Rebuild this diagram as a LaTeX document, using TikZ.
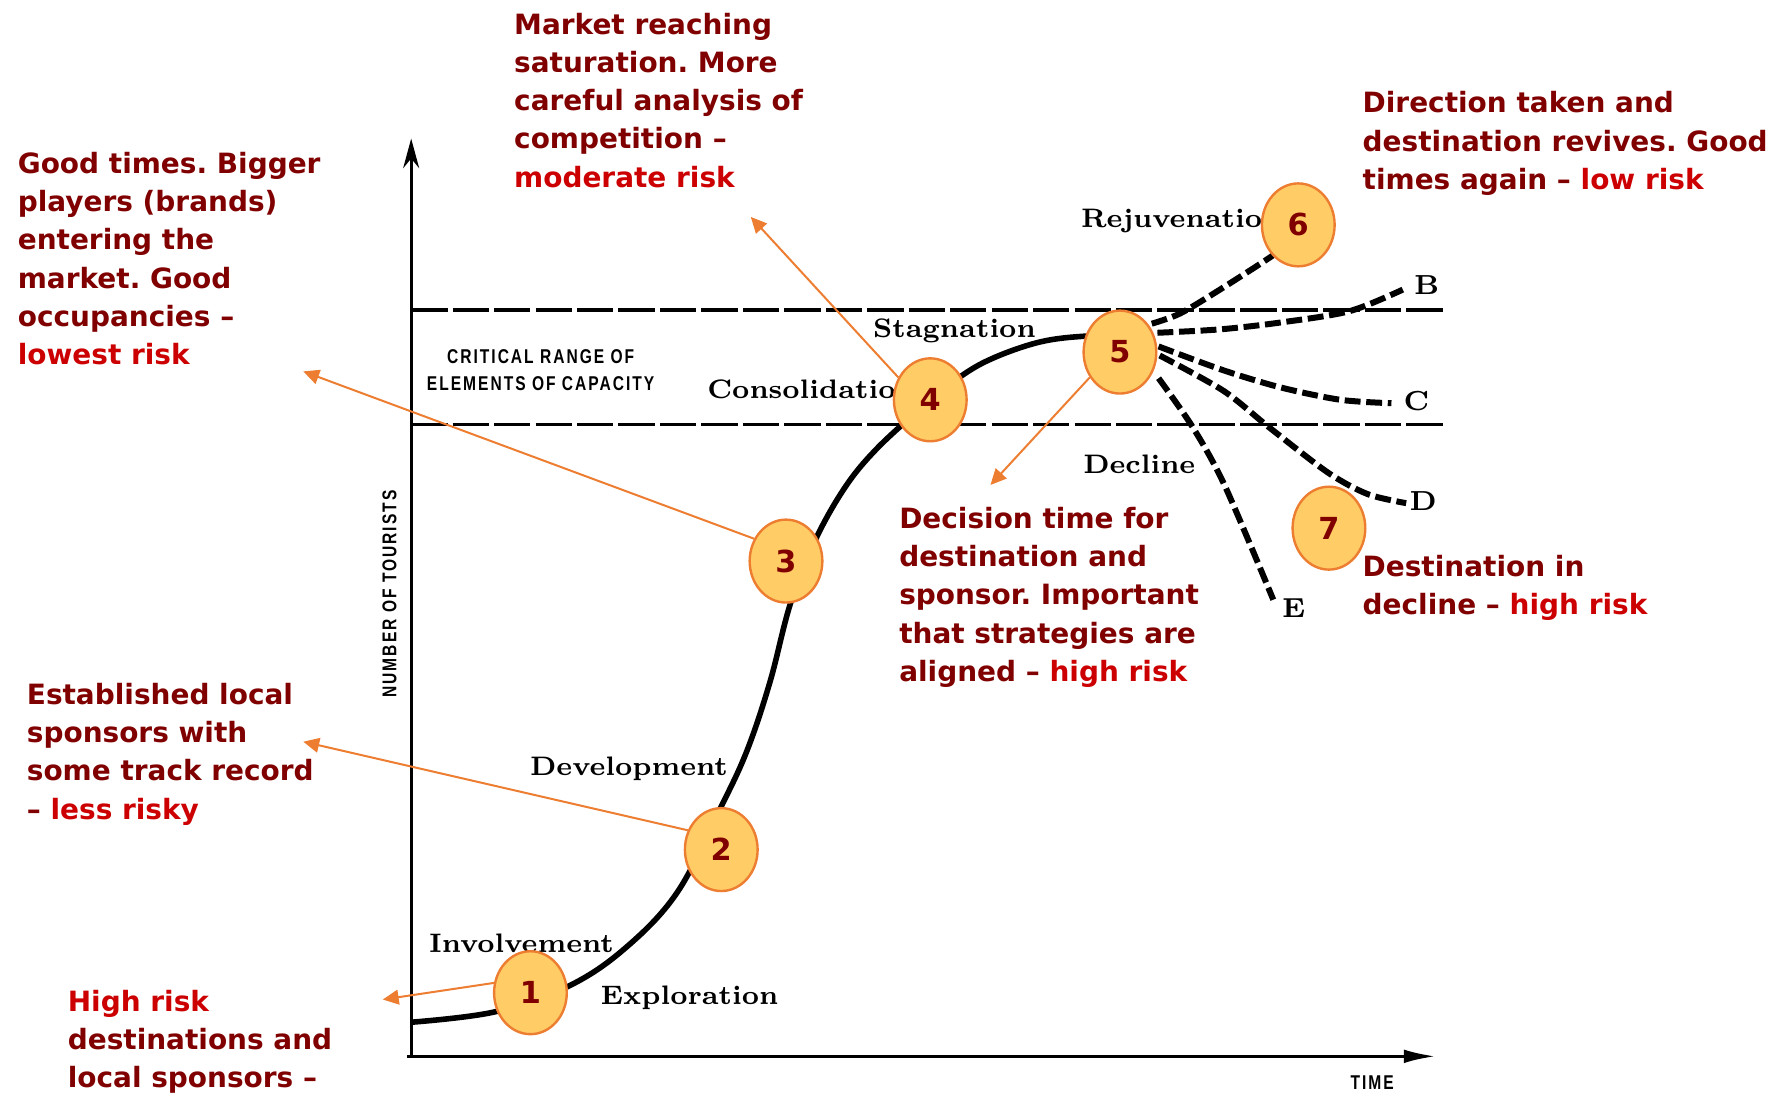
\documentclass[tikz,border=0pt]{standalone}
\usepackage{fontspec}
\usepackage{tikz}
\usetikzlibrary{shapes.geometric,arrows.meta}

\newfontfamily\notefont{DejaVu Sans}
\newfontfamily\capfont[FakeStretch=0.78,LetterSpace=10]{Liberation Sans}
\frenchspacing

\definecolor{riskdark}{RGB}{128,0,0}
\definecolor{riskred}{RGB}{204,0,0}
\definecolor{discfill}{RGB}{255,204,102}
\definecolor{discline}{RGB}{237,125,49}

\begin{document}
\begin{tikzpicture}[
    stage/.style={font=\bfseries\fontsize{6.7}{8}\selectfont, inner sep=0pt, anchor=base west},
    letter/.style={font=\bfseries\fontsize{6.9}{8}\selectfont, inner sep=0pt},
    note/.style={font=\notefont\bfseries\fontsize{7}{9.56}\selectfont, text=riskdark, align=left, inner sep=0pt, anchor=north west},
    axislabel/.style={font=\capfont\bfseries\fontsize{5}{6.7}\selectfont, inner sep=0pt},
    disc/.style={ellipse, draw=discline, fill=discfill, line width=0.6pt, minimum width=6.4mm, minimum height=7.3mm, inner sep=0pt, text=riskdark, font=\notefont\bfseries\fontsize{7.6}{8}\selectfont},
    riskarrow/.style={draw=discline, line width=0.5pt, -{Triangle[length=1.4mm,width=1.3mm]}},
    capline/.style={line width=0.8pt, dash pattern=on 3.2mm off 0.45mm},
    branch/.style={line width=1.5pt, dash pattern=on 1.4mm off 0.5mm}
]
    \useasboundingbox (0,0) rectangle (15.68,9.65);

    % critical range of capacity
    \draw[capline] (3.62,6.92) -- (12.70,6.92);
    \draw[capline] (3.62,5.91) -- (12.70,5.91);
    \node[axislabel, align=center, anchor=north] (critical) at (4.76,6.58) {CRITICAL RANGE OF\\ELEMENTS OF CAPACITY};

    % axes
    \coordinate (O) at (3.62,0.35);
    \draw[line width=0.8pt, -{Stealth[length=2.6mm,width=1.4mm]}] (O) -- (3.62,8.43);
    \draw[line width=0.8pt, -{Latex[length=2.8mm,width=1.2mm]}] (3.58,0.35) -- (12.64,0.35);
    \node[axislabel, rotate=90] (tourists) at (3.43,4.42) {NUMBER OF TOURISTS};
    \node[axislabel] (time) at (12.08,0.12) {TIME};

    % life cycle curve
    \draw[line width=1.4pt] plot[smooth, tension=0.6] coordinates {(3.62,0.65) (4.35,0.74) (4.99,0.96) (5.49,1.29) (5.96,1.79) (6.35,2.55) (6.58,3.05) (6.78,3.65) (6.96,4.34) (7.18,4.90) (7.44,5.36) (7.71,5.69) (8.08,6.03) (8.45,6.33) (8.75,6.50) (9.16,6.64) (9.55,6.69) (9.90,6.69)};

    % possible paths after stagnation
    \draw[branch] plot[smooth] coordinates {(10.14,6.80) (10.39,6.89) (10.74,7.10) (11.19,7.39) (11.25,7.45)};
    \draw[branch] plot[smooth] coordinates {(10.19,6.72) (10.74,6.75) (11.27,6.81) (11.88,6.91) (12.35,7.10)};
    \draw[branch] plot[smooth] coordinates {(10.20,6.60) (10.77,6.39) (11.27,6.24) (11.80,6.13) (12.25,6.10)};
    \draw[branch] plot[smooth] coordinates {(10.21,6.52) (10.77,6.21) (11.17,5.89) (11.69,5.49) (12.04,5.30) (12.38,5.22)};
    \draw[branch] plot[smooth] coordinates {(10.20,6.32) (10.50,5.89) (10.78,5.38) (11.21,4.37)};
    \node[letter] (B) at (12.56,7.14) {B};
    \node[letter] (C) at (12.47,6.12) {C};
    \node[letter] (D) at (12.53,5.24) {D};
    \node[letter] (E) at (11.39,4.30) {E};

    % stages
    \node[stage] (explore) at (5.28,0.81) {Exploration};
    \node[stage] (involve) at (3.77,1.26) {Involvement};
    \node[stage] (develop) at (4.66,2.82) {Development};
    \node[stage] (consol) at (6.22,6.14) {Consolidatio};
    \node[stage] (stagnate) at (7.68,6.68) {Stagnation};
    \node[stage] (rejuv) at (9.51,7.65) {Rejuvenatio};
    \node[stage] (decline) at (9.53,5.48) {Decline};

    % numbered markers
    \node[disc] (s1) at (4.67,0.91) {1};
    \node[disc] (s2) at (6.35,2.17) {2};
    \node[disc] (s3) at (6.92,4.71) {3};
    \node[disc] (s4) at (8.19,6.13) {4};
    \node[disc] (s5) at (9.86,6.55) {5};
    \node[disc] (s6) at (11.43,7.67) {6};
    \node[disc] (s7) at (11.70,5.00) {7};

    % risk notes
    \node[note] (market) at (4.52,9.54) {Market reaching\\saturation. More\\careful analysis of\\competition –\\\textcolor{riskred}{moderate risk}};
    \node[note] (goodtimes) at (0.15,8.315) {Good times. Bigger\\players (brands)\\entering the\\market. Good\\occupancies –\\\textcolor{riskred}{lowest risk}};
    \node[note] (revive) at (11.99,8.85) {Direction taken and\\destination revives. Good\\times again – \textcolor{riskred}{low risk}};
    \node[note] (local) at (0.23,3.64) {Established local\\sponsors with\\some track record\\– \textcolor{riskred}{less risky}};
    \node[note] (highrisk) at (0.59,0.94) {\textcolor{riskred}{High risk}\\destinations and\\local sponsors –};
    \node[note] (decision) at (7.91,5.19) {Decision time for\\destination and\\sponsor. Important\\that strategies are\\aligned – \textcolor{riskred}{high risk}};
    \node[note] (indecline) at (11.99,4.77) {Destination in\\decline – \textcolor{riskred}{high risk}};

    % arrows to the notes
    \coordinate (t1) at (3.37,0.85);
    \coordinate (t2) at (2.67,3.12);
    \coordinate (t3) at (2.67,6.38);
    \coordinate (t4) at (6.61,7.74);
    \coordinate (t5) at (8.72,5.38);
    \draw[riskarrow] (s1.165) -- (t1);
    \draw[riskarrow] (s2.150) -- (t2);
    \draw[riskarrow] (s3.145) -- (t3);
    \draw[riskarrow] (s4.145) -- (t4);
    \draw[riskarrow] (s5.220) -- (t5);
\end{tikzpicture}
\end{document}
